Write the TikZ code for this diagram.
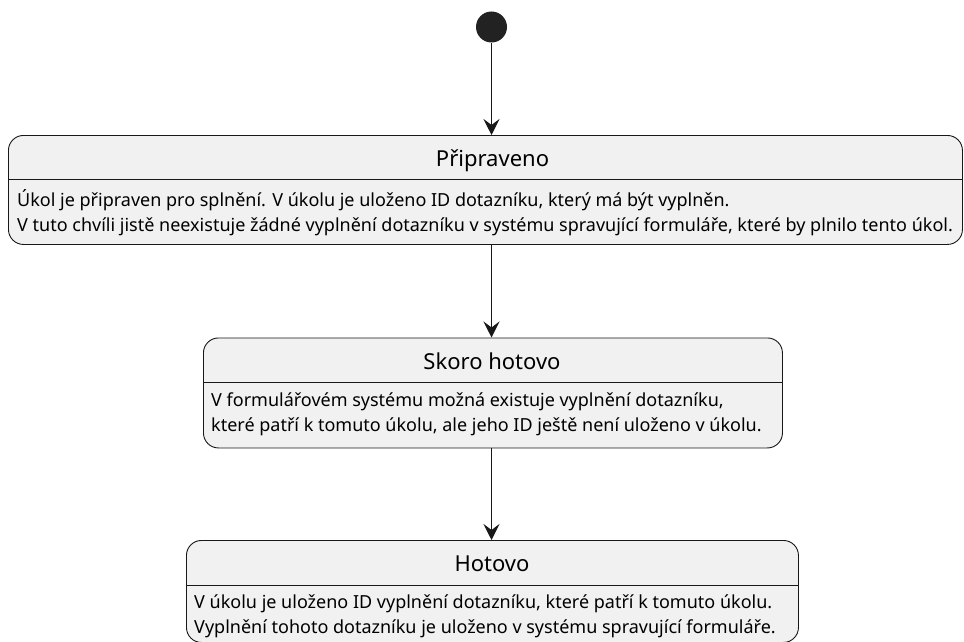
\documentclass[tikz,border=0pt]{standalone}
\usepackage{fontspec}
\setmainfont{Noto Sans}
\usetikzlibrary{positioning,arrows.meta}

\definecolor{statefill}{HTML}{F1F1F1}
\definecolor{stateline}{HTML}{181818}
\definecolor{startdot}{HTML}{222222}

\tikzset{
  statebox/.style = {draw=stateline, fill=statefill, line width=0.9pt, rounded corners=15pt, anchor=north west, inner sep=0pt},
  statetitle/.style = {font=\fontsize{22}{25}\selectfont, inner sep=0pt, anchor=base},
  statebody/.style = {font=\fontsize{18}{25}\selectfont, inner sep=0pt, anchor=north west, align=left},
  startnode/.style = {circle, fill=startdot, minimum size=31pt, inner sep=0pt},
  flow/.style = {draw=stateline, line width=1.1pt, -{Stealth[length=16pt, width=16pt, inset=6pt]}}
}

\begin{document}
\begin{tikzpicture}[x=1pt, y=-1pt]
  \useasboundingbox (0,0) rectangle (964,642);
  \node[startnode] (start) at (491.5,27) {};
  % Pripraveno
  \node[statebox, minimum width=954pt, minimum height=109pt] (ready) at (8,135) {};
  \coordinate (readysep) at (8,179);
  \node[statetitle] (readytitle) at (492.5,166) {Připraveno};
  \draw[stateline, line width=0.9pt] (readysep) -- (readysep -| ready.east);
  \node[statebody, below right=10pt and 9pt of readysep] (readytext) {Úkol je připraven pro splnění. V úkolu je uloženo ID dotazníku, který má být vyplněn.\\V tuto chvíli jistě neexistuje žádné vyplnění dotazníku v systému spravující formuláře, které by plnilo tento úkol.};
  % Skoro hotovo
  \node[statebox, minimum width=579pt, minimum height=110pt] (almost) at (203,337.5) {};
  \coordinate (almostsep) at (203,382.5);
  \node[statetitle] (almosttitle) at (492,369) {Skoro hotovo};
  \draw[stateline, line width=0.9pt] (almostsep) -- (almostsep -| almost.east);
  \node[statebody, below right=10pt and 8pt of almostsep] (almosttext) {V formulářovém systému možná existuje vyplnění dotazníku,\\které patří k tomuto úkolu, ale jeho ID ještě není uloženo v úkolu.};
  % Hotovo
  \node[statebox, minimum width=612pt, minimum height=102pt] (done) at (186,540) {};
  \coordinate (donesep) at (186,585);
  \node[statetitle] (donetitle) at (492,571.5) {Hotovo};
  \draw[stateline, line width=0.9pt] (donesep) -- (donesep -| done.east);
  \node[statebody, below right=10pt and 8pt of donesep] (donetext) {V úkolu je uloženo ID vyplnění dotazníku, které patří k tomuto úkolu.\\Vyplnění tohoto dotazníku je uloženo v systému spravující formuláře.};
  % prechody
  \draw[flow] (start) -- (start |- ready.north);
  \draw[flow] (ready.south -| start) -- (start |- almost.north);
  \draw[flow] (almost.south -| start) -- (start |- done.north);
\end{tikzpicture}
\end{document}
